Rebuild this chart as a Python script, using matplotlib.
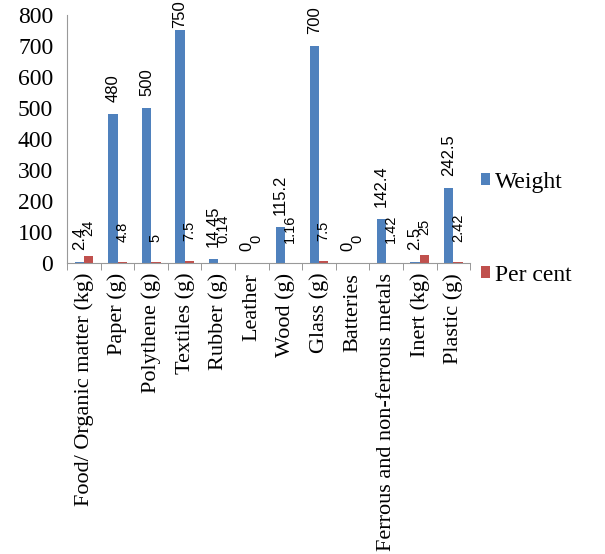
import numpy as np
import matplotlib.pyplot as plt

# waste composition survey
categories = ['Food/ Organic matter (kg)', 'Paper (g)', 'Polythene (g)', 'Textiles (g)',
              'Rubber (g)', 'Leather', 'Wood (g)', 'Glass (g)', 'Batteries',
              'Ferrous and non-ferrous metals', 'Inert (kg)', 'Plastic (g)']
weight = [2.4, 480, 500, 750, 14.45, 0, 115.2, 700, 0, 142.4, 2.5, 242.5]
per_cent = [24, 4.8, 5, 7.5, 0.14, 0, 1.16, 7.5, 0, 1.42, 25, 2.42]
weight_labels = ['2.4', '480', '500', '750', '14.45', '0', '115.2', '700', '0', '142.4', '2.5', '242.5']
pct_labels = ['24', '4.8', '5', '7.5', '0.14', '0', '1.16', '7.5', '0', '1.42', '25', '2.42']

blue = '#4F81BD'
red = '#C0504D'
serif = 'Liberation Serif'
sans = 'Liberation Sans'

fig = plt.figure(figsize=(6.05, 5.54), dpi=100)
ax = fig.add_axes([0.111, 0.525, 0.666, 0.448])

x = np.arange(len(categories))
w = 0.28
b1 = ax.bar(x - w / 2, weight, w, color=blue, label='Weight')
b2 = ax.bar(x + w / 2, per_cent, w, color=red, label='Per cent')

# value labels, rotated, sitting above each bar (kept inside the figure at the top)
for rect, lab in zip(b1, weight_labels):
    y = min(rect.get_height(), 720)
    ax.annotate(lab, (rect.get_x() + rect.get_width() / 2, y),
                xytext=(0, 12), textcoords='offset pixels', rotation=90,
                ha='center', va='bottom', fontsize=12, family=sans,
                annotation_clip=False)
for rect, lab in zip(b2, pct_labels):
    ax.annotate(lab, (rect.get_x() + rect.get_width() / 2, rect.get_height()),
                xytext=(0, 20), textcoords='offset pixels', rotation=90,
                ha='center', va='bottom', fontsize=10.5, family=sans,
                annotation_clip=False)

ax.set_xlim(-0.5, len(categories) - 0.5)
ax.set_ylim(0, 800)
ax.set_yticks(range(0, 801, 100))
ax.set_yticklabels([str(v) for v in range(0, 801, 100)], family=serif, fontsize=17)
ax.tick_params(axis='y', length=0, pad=10)

# category labels centred, tick marks on the boundaries
ax.set_xticks(x)
ax.set_xticklabels(categories, rotation=90, family=serif, fontsize=16)
ax.tick_params(axis='x', which='major', length=0, pad=7)
ax.set_xticks(np.arange(-0.5, len(categories)), minor=True)
ax.tick_params(axis='x', which='minor', length=5, color='#888888', direction='out')

for s in ['top', 'right']:
    ax.spines[s].set_visible(False)
ax.spines['left'].set_color('#999999')
ax.spines['bottom'].set_color('#999999')

handles = [b1, b2]
fig.legend(handles, ['Weight', 'Per cent'], loc='upper left',
           bbox_to_anchor=(0.795, 0.69), frameon=False, borderpad=0,
           borderaxespad=0, handlelength=0.4, handleheight=0.4,
           handletextpad=0.2, labelspacing=3.05,
           prop={'family': serif, 'size': 17})

fig.savefig('out.png', dpi=100)
